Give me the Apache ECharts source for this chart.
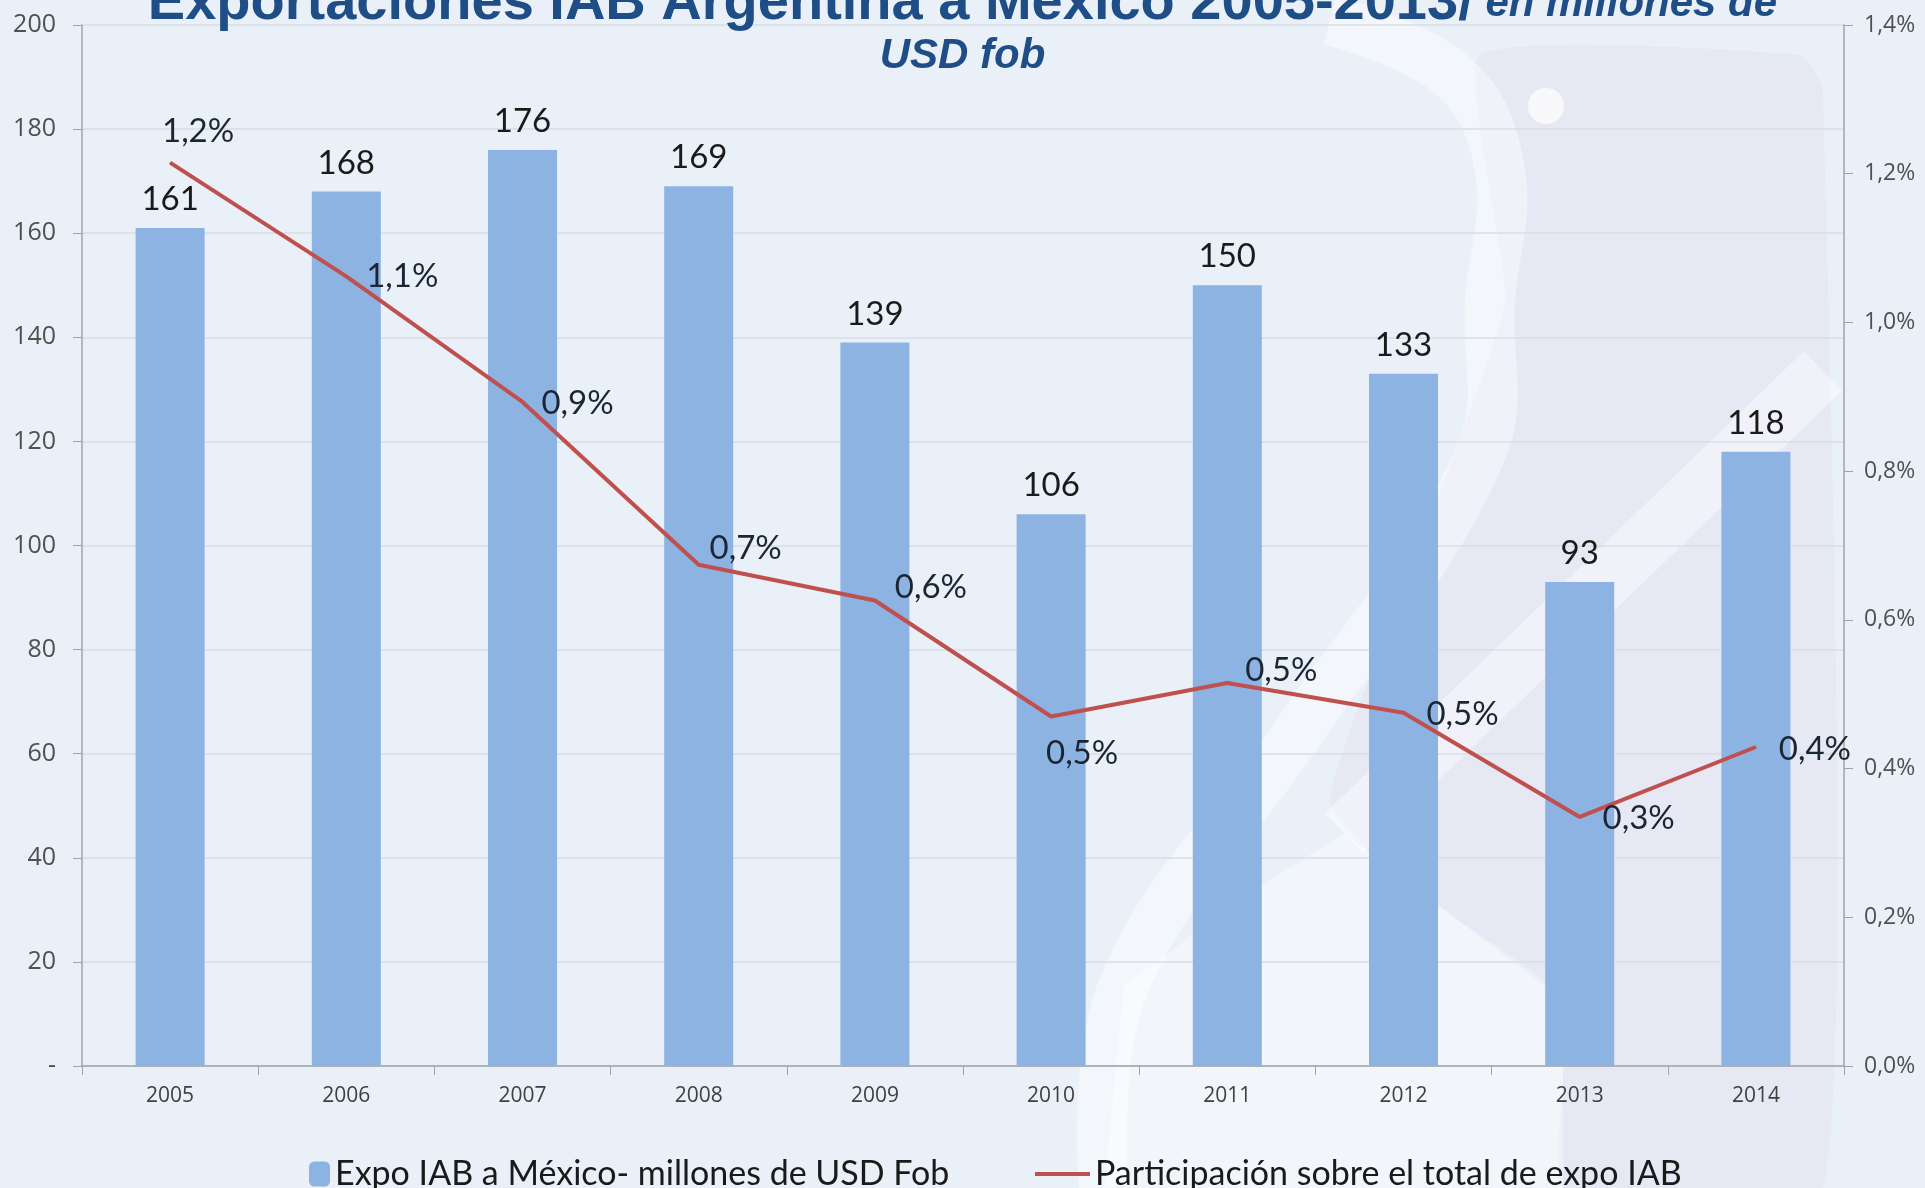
<!DOCTYPE html>
<html>
<head>
<meta charset="utf-8">
<title>Exportaciones IAB Argentina a México</title>
<script src="https://cdn.jsdelivr.net/npm/echarts@6/dist/echarts.min.js"></script>
<style>
    html, body { margin: 0; padding: 0; background: #e9f0f8; }
    #chart { width: 1925px; height: 1188px; }
</style>
</head>
<body>
<div id="chart"></div>
<script>
    // datos
    const years = ['2005', '2006', '2007', '2008', '2009', '2010', '2011', '2012', '2013', '2014'];
    const expoMillones = [161, 168, 176, 169, 139, 106, 150, 133, 93, 118];
    const participacion = [1.215, 1.062, 0.893, 0.674, 0.626, 0.470, 0.515, 0.475, 0.335, 0.429];

    const barName = 'Expo IAB a México- millones de USD Fob';
    const lineName = 'Participación sobre el total de expo IAB';

    // desplazamiento de cada etiqueta del % respecto a su punto
    const lineLabelNudge = [[28, -31], [56, 0], [55, 1], [47, -16], [56, -13], [31, 37], [54, -13], [59, 2], [59, 1], [59, 2]];

    const pct = v => v.toFixed(1).replace('.', ',') + '%';

    let chart = echarts.init(document.getElementById('chart'));
    chart.setOption({
        backgroundColor: '#e9f0f8',
        animation: false,
        // marca de agua del fondo (decorativa)
        graphic: [
            {
                type: 'polygon', z: -10, silent: true,
                shape: { points: [[1480, 55], [1800, 55], [1823, 90], [1823, 1188], [1563, 1188], [1563, 1000], [1400, 880], [1330, 800], [1430, 520], [1505, 300]], smooth: 0.15 },
                style: { fill: '#e6e8f4' }
            },
            {
                type: 'polygon', z: -9, silent: true,
                shape: { points: [[1240, 900], [1344, 833], [1563, 1000], [1563, 1188], [1104, 1188], [1124, 985]] },
                style: { fill: 'rgba(255,255,255,0.4)' }
            },
            {
                type: 'polyline', z: -8, silent: true,
                shape: { points: [[1330, 20], [1453, 76], [1500, 170], [1490, 300], [1480, 455], [1300, 730], [1124, 985], [1104, 1188]], smooth: 0.4 },
                style: { stroke: 'rgba(255,255,255,0.45)', lineWidth: 50, fill: null }
            },
            {
                type: 'line', z: -8, silent: true,
                shape: { x1: 1823, y1: 371, x2: 1344, y2: 833 },
                style: { stroke: 'rgba(255,255,255,0.45)', lineWidth: 55 }
            },
            {
                type: 'circle', z: -8, silent: true,
                shape: { cx: 1546, cy: 106, r: 18 },
                style: { fill: 'rgba(255,255,255,0.75)' }
            }
        ],
        title: {
            text: '{a|Exportaciones IAB Argentina a México 2005-2013/}{b| en millones de}\n{b|USD fob}',
            left: 'center',
            top: -27,
            textStyle: {
                rich: {
                    a: { fontFamily: 'Liberation Sans', fontWeight: 'bold', fontSize: 56, color: '#1f4e87', lineHeight: 52 },
                    b: { fontFamily: 'Liberation Sans', fontWeight: 'bold', fontStyle: 'italic', fontSize: 42, color: '#1f4e87', lineHeight: 52 }
                }
            }
        },
        legend: [
            {
                data: [barName],
                left: 304,
                top: 1152,
                itemWidth: 21,
                itemHeight: 25,
                textStyle: { fontFamily: 'Lato', fontSize: 34, color: '#1a1a1a' }
            },
            {
                data: [{ name: lineName, icon: 'path://M0,0H55V4H0Z' }],
                left: 1030,
                top: 1152,
                itemWidth: 55,
                itemHeight: 25,
                textStyle: { fontFamily: 'Lato', fontSize: 34, color: '#1a1a1a' }
            }
        ],
        grid: { left: 82, right: 81, top: 25, bottom: 122 },
        xAxis: {
            type: 'category',
            data: years,
            axisLine: { lineStyle: { color: '#a0a4a8', width: 1.5 } },
            axisTick: { show: true, length: 9, lineStyle: { color: '#a0a4a8' } },
            axisLabel: { fontFamily: 'Open Sans', fontSize: 21, color: '#404040', margin: 20 }
        },
        yAxis: [
            {
                type: 'value',
                min: 0,
                max: 200,
                interval: 20,
                axisLine: { show: true, lineStyle: { color: '#a0a4a8', width: 1.5 } },
                axisTick: { show: true, length: 9, lineStyle: { color: '#a0a4a8' } },
                splitLine: { lineStyle: { color: '#d8dee6', width: 1.5 } },
                axisLabel: {
                    fontFamily: 'Open Sans', fontSize: 25, color: '#505050', margin: 26,
                    formatter: v => v === 0 ? '-' : v
                }
            },
            {
                type: 'value',
                min: 0,
                max: 1.4,
                interval: 0.2,
                position: 'right',
                axisLine: { show: true, lineStyle: { color: '#a0a4a8', width: 1.5 } },
                axisTick: { show: true, length: 9, lineStyle: { color: '#a0a4a8' } },
                splitLine: { show: false },
                axisLabel: {
                    fontFamily: 'Open Sans', fontSize: 23, color: '#505050', margin: 20,
                    formatter: v => pct(v)
                }
            }
        ],
        series: [
            {
                name: barName,
                type: 'bar',
                data: expoMillones,
                barWidth: 69,
                itemStyle: { color: '#8db3e2' },
                label: {
                    show: true,
                    position: 'top',
                    distance: 12,
                    fontFamily: 'Lato',
                    fontSize: 33,
                    color: '#1a1a1a'
                }
            },
            {
                name: lineName,
                type: 'line',
                yAxisIndex: 1,
                data: participacion.map((v, i) => ({
                    value: v,
                    label: { offset: lineLabelNudge[i] }
                })),
                symbol: 'circle',
                symbolSize: 1,
                lineStyle: { color: '#c0504d', width: 4 },
                itemStyle: { color: '#c0504d' },
                label: {
                    show: true,
                    position: 'inside',
                    fontFamily: 'Lato',
                    fontSize: 33,
                    color: '#1c2533',
                    formatter: p => pct(p.value)
                }
            }
        ]
    });
</script>
</body>
</html>
